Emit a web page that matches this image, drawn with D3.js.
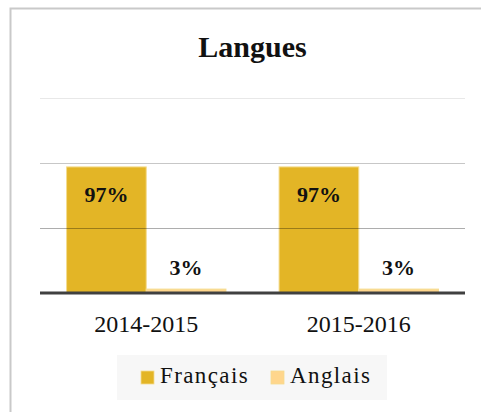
<!DOCTYPE html>
<html>
<head>
<meta charset="utf-8">
<script src="https://cdn.jsdelivr.net/npm/d3@7"></script>
<style>
  html, body { margin: 0; background: #fff; overflow: hidden; }
  svg { display: block; }
  svg text { font-family: "Liberation Serif", "DejaVu Serif", serif; fill: #111; }
</style>
</head>
<body>
<div id="chart"></div>
<script>
// Langues chart: share of French / English per school year

const years = ["2014-2015", "2015-2016"];
const series = ["Français", "Anglais"];
const francais = [0.97, 0.97];
const anglais = [0.03, 0.03];
const yTicks = [0, 0.5, 1, 1.5];
const colors = ["#e3b526", "#ffd68c"];

const width = 481, height = 412;
const plotLeft = 40, plotRight = 465, plotTop = 98, plotBottom = 293;

const svg = d3.select("#chart")
  .append("svg")
  .attr("width", width)
  .attr("height", height);

// outer frame (only left and top edges show)
svg.append("rect")
  .attr("x", 10.5).attr("y", 8.5)
  .attr("width", 520).attr("height", 450)
  .attr("fill", "none")
  .attr("stroke", "#c9c9c9")
  .attr("stroke-width", 2);

svg.append("text")
  .attr("x", (plotLeft + plotRight) / 2)
  .attr("y", 57)
  .attr("text-anchor", "middle")
  .attr("font-size", "30px")
  .attr("font-weight", "bold")
  .text("Langues");

const x0 = d3.scaleBand()
  .domain(years)
  .range([plotLeft, plotRight])
  .paddingInner(0.25)
  .paddingOuter(0.125);

const x1 = d3.scaleBand()
  .domain(series)
  .range([0, x0.bandwidth()]);

const y = d3.scaleLinear()
  .domain([0, 1.5])
  .range([plotBottom, plotTop]);

const rows = years.map((yr, i) => ({year: yr, values: [francais[i], anglais[i]]}));

// bars
const groups = svg.selectAll(".grp")
  .data(rows)
  .enter()
  .append("g")
  .attr("class", "grp")
  .attr("transform", d => `translate(${x0(d.year)},0)`);

groups.selectAll("rect")
  .data(d => d.values.map((v, j) => ({key: series[j], v: v, j: j})))
  .enter()
  .append("rect")
  .attr("x", d => x1(d.key))
  .attr("y", d => y(d.v))
  .attr("width", x1.bandwidth())
  .attr("height", d => y(0) - y(d.v))
  .attr("fill", d => colors[d.j])
  .attr("stroke", "#f4dc90")
  .attr("stroke-width", 1);

// gridlines drawn over the bars, semi-transparent
svg.append("g")
  .selectAll("line")
  .data(yTicks.filter(t => t > 0))
  .enter()
  .append("line")
  .attr("x1", plotLeft).attr("x2", plotRight)
  .attr("y1", d => Math.round(y(d)) + 0.5)
  .attr("y2", d => Math.round(y(d)) + 0.5)
  .attr("stroke", "#000")
  .attr("stroke-opacity", d => d === 1.5 ? 0.09 : (d === 1 ? 0.22 : 0.32))
  .attr("stroke-width", 1);

// baseline
svg.append("line")
  .attr("x1", plotLeft).attr("x2", plotRight)
  .attr("y1", y(0)).attr("y2", y(0))
  .attr("stroke", "#404040")
  .attr("stroke-width", 3);

// value labels
groups.selectAll(".val")
  .data(d => d.values.map((v, j) => ({key: series[j], v: v, j: j})))
  .enter()
  .append("text")
  .attr("class", "val")
  .attr("x", d => x1(d.key) + x1.bandwidth() / 2)
  .attr("y", d => d.v > 0.5 ? y(d.v) + 35 : y(d.v) - 14)
  .attr("text-anchor", "middle")
  .attr("font-size", "22px")
  .attr("font-weight", "bold")
  .text(d => Math.round(d.v * 100) + "%");

// category axis
const xAxis = svg.append("g")
  .attr("transform", `translate(0,${plotBottom})`)
  .call(d3.axisBottom(x0).tickSize(0).tickPadding(0));
xAxis.select(".domain").remove();
xAxis.selectAll("text")
  .attr("dy", null)
  .attr("y", 39)
  .attr("font-size", "24px")
  .attr("font-family", "Liberation Serif")
  .attr("fill", "#111");

// legend
const legend = svg.append("g");
legend.append("rect")
  .attr("x", 117).attr("y", 355)
  .attr("width", 270).attr("height", 45)
  .attr("fill", "#f7f7f7");

const legX = [141, 271];
series.forEach((s, i) => {
  legend.append("rect")
    .attr("x", legX[i]).attr("y", 371)
    .attr("width", 13).attr("height", 13)
    .attr("fill", colors[i])
    .attr("stroke", "#f4dc90")
    .attr("stroke-width", 0.8);
  legend.append("text")
    .attr("x", legX[i] + 19)
    .attr("y", 383)
    .attr("font-size", "23px")
    .attr("letter-spacing", "1.4px")
    .text(s);
});
</script>
</body>
</html>
